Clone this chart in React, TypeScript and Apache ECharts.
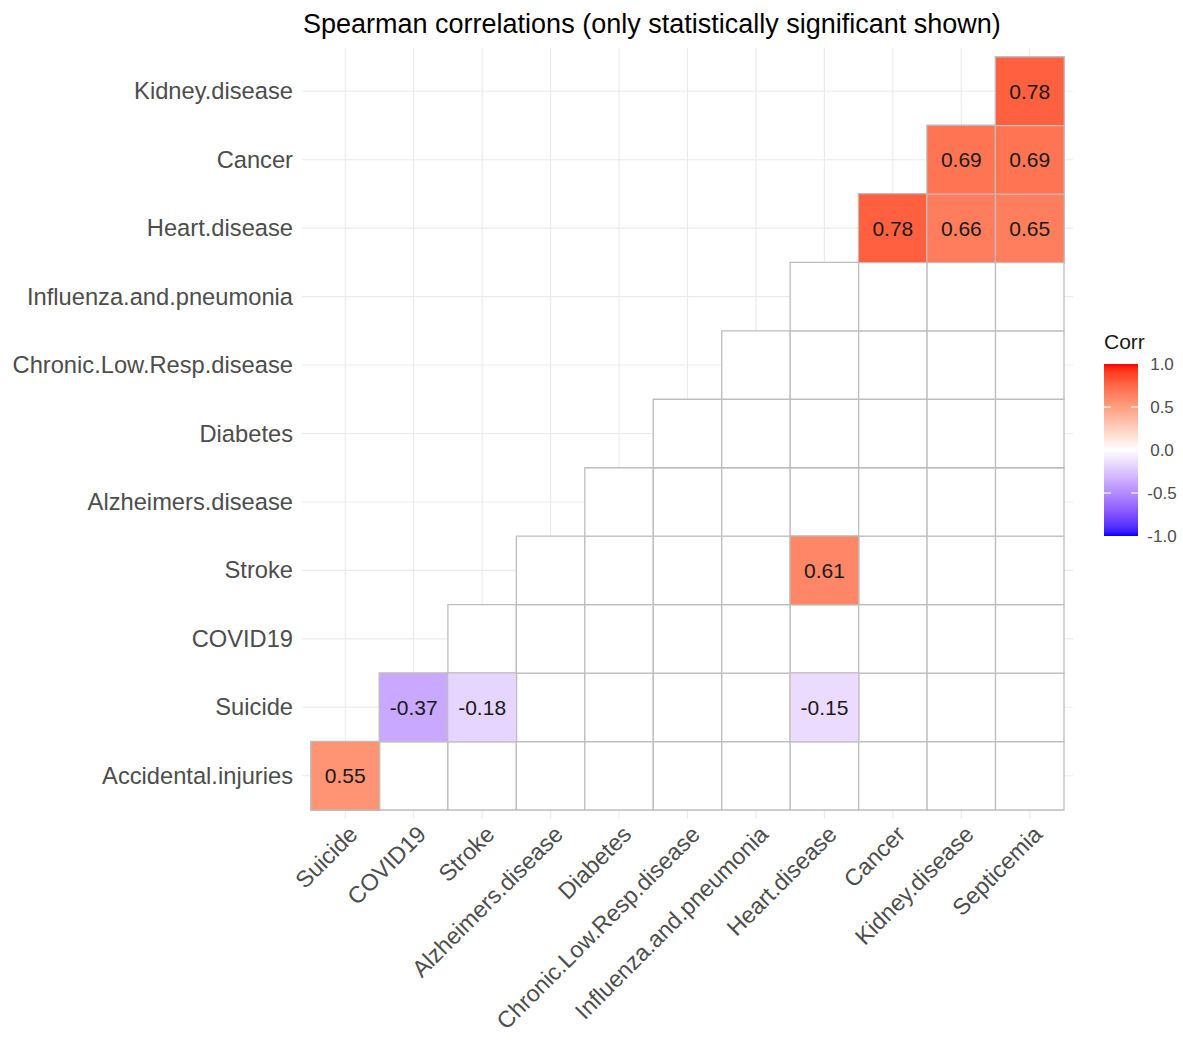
import React, { useEffect, useRef } from "react";
import * as echarts from "echarts";

const TITLE = "Spearman correlations (only statistically significant shown)";
const X_CATS = [
  "Suicide",
  "COVID19",
  "Stroke",
  "Alzheimers.disease",
  "Diabetes",
  "Chronic.Low.Resp.disease",
  "Influenza.and.pneumonia",
  "Heart.disease",
  "Cancer",
  "Kidney.disease",
  "Septicemia",
];
const Y_CATS = [
  "Accidental.injuries",
  "Suicide",
  "COVID19",
  "Stroke",
  "Alzheimers.disease",
  "Diabetes",
  "Chronic.Low.Resp.disease",
  "Influenza.and.pneumonia",
  "Heart.disease",
  "Cancer",
  "Kidney.disease",
];
// [x category, y category, correlation]
const SIGNIFICANT: [string, string, number][] = [
  ["Suicide", "Accidental.injuries", 0.55],
  ["COVID19", "Suicide", -0.37],
  ["Stroke", "Suicide", -0.18],
  ["Heart.disease", "Suicide", -0.15],
  ["Heart.disease", "Stroke", 0.61],
  ["Cancer", "Heart.disease", 0.78],
  ["Kidney.disease", "Heart.disease", 0.66],
  ["Septicemia", "Heart.disease", 0.65],
  ["Kidney.disease", "Cancer", 0.69],
  ["Septicemia", "Cancer", 0.69],
  ["Septicemia", "Kidney.disease", 0.78],
];
const LEGEND_TITLE = "Corr";
const LEGEND_TICKS = [1.0, 0.5, 0.0, -0.5, -1.0];
const SCALE_MIN = -1;
const SCALE_MAX = 1;

// ---- Lab colour interpolation (like ggplot's gradient2) ----
function toLin(c: number) {
  c /= 255;
  return c <= 0.04045 ? c / 12.92 : Math.pow((c + 0.055) / 1.055, 2.4);
}
function fromLin(c: number) {
  const v = c <= 0.0031308 ? 12.92 * c : 1.055 * Math.pow(c, 1 / 2.4) - 0.055;
  return Math.max(0, Math.min(255, Math.round(v * 255)));
}
const XN = 0.95047, YN = 1.0, ZN = 1.08883;
function rgbToLab(hex: string) {
  const r = toLin(parseInt(hex.slice(1, 3), 16));
  const g = toLin(parseInt(hex.slice(3, 5), 16));
  const b = toLin(parseInt(hex.slice(5, 7), 16));
  const X = (0.4124 * r + 0.3576 * g + 0.1805 * b) / XN;
  const Y = (0.2126 * r + 0.7152 * g + 0.0722 * b) / YN;
  const Z = (0.0193 * r + 0.1192 * g + 0.9505 * b) / ZN;
  const f = (t: number) => (t > 0.008856 ? Math.cbrt(t) : 7.787 * t + 16 / 116);
  const fx = f(X), fy = f(Y), fz = f(Z);
  return [116 * fy - 16, 500 * (fx - fy), 200 * (fy - fz)];
}
function labToHex(L: number, a: number, b: number) {
  const fy = (L + 16) / 116;
  const fx = fy + a / 500;
  const fz = fy - b / 200;
  const inv = (t: number) => (t * t * t > 0.008856 ? t * t * t : (t - 16 / 116) / 7.787);
  const X = inv(fx) * XN, Y = inv(fy) * YN, Z = inv(fz) * ZN;
  const r = 3.2406 * X - 1.5372 * Y - 0.4986 * Z;
  const g = -0.9689 * X + 1.8758 * Y + 0.0415 * Z;
  const bb = 0.0557 * X - 0.204 * Y + 1.057 * Z;
  const h = (v: number) => fromLin(v).toString(16).padStart(2, "0");
  return "#" + h(r) + h(g) + h(bb);
}
function gradientStops(low: string, mid: string, high: string, n: number) {
  const lo = rgbToLab(low), mi = rgbToLab(mid), hi = rgbToLab(high);
  const out: string[] = [];
  for (let k = 0; k < n; k++) {
    const t = (k / (n - 1)) * 2 - 1;
    const [A, B, u] = t < 0 ? [mi, lo, -t] : [mi, hi, t];
    out.push(labToHex(A[0] + (B[0] - A[0]) * u, A[1] + (B[1] - A[1]) * u, A[2] + (B[2] - A[2]) * u));
  }
  return out;
}

const FONT = "'Liberation Sans', Arial, sans-serif";

export default function App() {
  const ref = useRef<HTMLDivElement>(null);
  useEffect(() => {
    if (!ref.current) return;
    const chart = echarts.init(ref.current, undefined, { renderer: "svg" });

    const blankData: [string, string][] = [];
    X_CATS.forEach((xc, i) => {
      Y_CATS.forEach((yc, j) => {
        if (i >= j && !SIGNIFICANT.some((s) => s[0] === xc && s[1] === yc)) {
          blankData.push([xc, yc]);
        }
      });
    });

    const GRID = { left: 311, top: 57, width: 753, height: 753 };
    const PAD = 9;
    const BAR = { x: 1104, y: 364, w: 34, h: 172 };
    const STOPS = gradientStops("#0000FF", "#FFFFFF", "#FF0000", 41);

    const gridLineStyle = { stroke: "#EBEBEB", lineWidth: 1.1 };

    const graphics: any[] = [
      {
        type: "text",
        left: 1104,
        top: 331,
        style: { text: LEGEND_TITLE, fontSize: 21, fill: "#1A1A1A", fontFamily: FONT },
      },
      {
        type: "rect",
        shape: { x: BAR.x, y: BAR.y, width: BAR.w, height: BAR.h },
        style: {
          fill: new echarts.graphic.LinearGradient(
            0,
            0,
            0,
            1,
            STOPS.slice()
              .reverse()
              .map((c, k) => ({ offset: k / (STOPS.length - 1), color: c }))
          ),
        },
        z: 50,
      },
    ];
    LEGEND_TICKS.forEach((v) => {
      const y = BAR.y + ((SCALE_MAX - v) / (SCALE_MAX - SCALE_MIN)) * BAR.h;
      graphics.push({
        type: "text",
        x: 1162,
        y,
        style: {
          text: v.toFixed(1),
          fontSize: 17,
          fill: "#4D4D4D",
          fontFamily: FONT,
          align: "center",
          verticalAlign: "middle",
        },
        z: 10,
      });
      if (v > SCALE_MIN && v < SCALE_MAX) {
        graphics.push({
          type: "line",
          shape: { x1: BAR.x, y1: y, x2: BAR.x + 7, y2: y },
          style: { stroke: "#FFFFFF", lineWidth: 1.2 },
          z: 100,
        });
        graphics.push({
          type: "line",
          shape: { x1: BAR.x + BAR.w - 7, y1: y, x2: BAR.x + BAR.w, y2: y },
          style: { stroke: "#FFFFFF", lineWidth: 1.2 },
          z: 100,
        });
      }
    });

    chart.setOption({
      animation: false,
      backgroundColor: "#FFFFFF",
      title: {
        text: TITLE,
        left: 298,
        top: 5,
        textStyle: { fontSize: 27, fontWeight: "normal", color: "#000000", fontFamily: FONT },
      },
      grid: { ...GRID, containLabel: false, outerBoundsMode: "none" },
      xAxis: {
        type: "category",
        data: X_CATS,
        axisLine: { show: false },
        axisTick: { show: false },
        splitLine: { show: false },
        axisLabel: {
          rotate: 45,
          margin: 12,
          verticalAlign: "top",
          fontSize: 23.3,
          color: "#4D4D4D",
          fontFamily: FONT,
          interval: 0,
        },
      },
      yAxis: {
        type: "category",
        data: Y_CATS,
        axisLine: { show: false },
        axisTick: { show: false },
        splitLine: { show: false },
        axisLabel: {
          margin: 18,
          fontSize: 23.7,
          color: "#4D4D4D",
          fontFamily: FONT,
          interval: 0,
        },
      },
      visualMap: {
        type: "continuous",
        show: false,
        min: SCALE_MIN,
        max: SCALE_MAX,
        seriesIndex: 3,
        inRange: { color: STOPS },
      },
      graphic: graphics,
      series: [
        {
          type: "custom",
          silent: true,
          data: X_CATS.map((_, i) => [i, 0]),
          encode: { x: 0, y: 1 },
          renderItem: (params: any, api: any) => {
            const cs = params.coordSys;
            const p = api.coord([api.value(0), api.value(1)]);
            return {
              type: "line",
              shape: { x1: p[0], y1: cs.y - PAD, x2: p[0], y2: cs.y + cs.height + PAD },
              style: gridLineStyle,
            };
          },
        },
        {
          type: "custom",
          silent: true,
          data: Y_CATS.map((_, j) => [0, j]),
          encode: { x: 0, y: 1 },
          renderItem: (params: any, api: any) => {
            const cs = params.coordSys;
            const p = api.coord([api.value(0), api.value(1)]);
            return {
              type: "line",
              shape: { x1: cs.x - PAD, y1: p[1], x2: cs.x + cs.width + PAD, y2: p[1] },
              style: gridLineStyle,
            };
          },
        },
        {
          type: "custom",
          silent: true,
          data: blankData,
          encode: { x: 0, y: 1 },
          renderItem: (params: any, api: any) => {
            const p = api.coord([api.value(0), api.value(1)]);
            const s = api.size([1, 1]);
            return {
              type: "rect",
              shape: { x: p[0] - s[0] / 2, y: p[1] - s[1] / 2, width: s[0], height: s[1] },
              style: { fill: "#FFFFFF", stroke: "#BEBEBE", lineWidth: 1.3 },
            };
          },
        },
        {
          type: "heatmap",
          silent: true,
          data: SIGNIFICANT,
          itemStyle: { borderColor: "#BEBEBE", borderWidth: 1.3 },
          label: {
            show: true,
            fontSize: 21,
            color: "#1A1A1A",
            fontFamily: FONT,
            formatter: (p: any) => Number(p.value[2]).toFixed(2),
          },
          emphasis: { disabled: true },
        },
      ],
    });
    return () => chart.dispose();
  }, []);
  return (
    <div
      ref={ref}
      style={{ position: "absolute", left: 0, top: 0, width: 1183, height: 1040 }}
    />
  );
}
